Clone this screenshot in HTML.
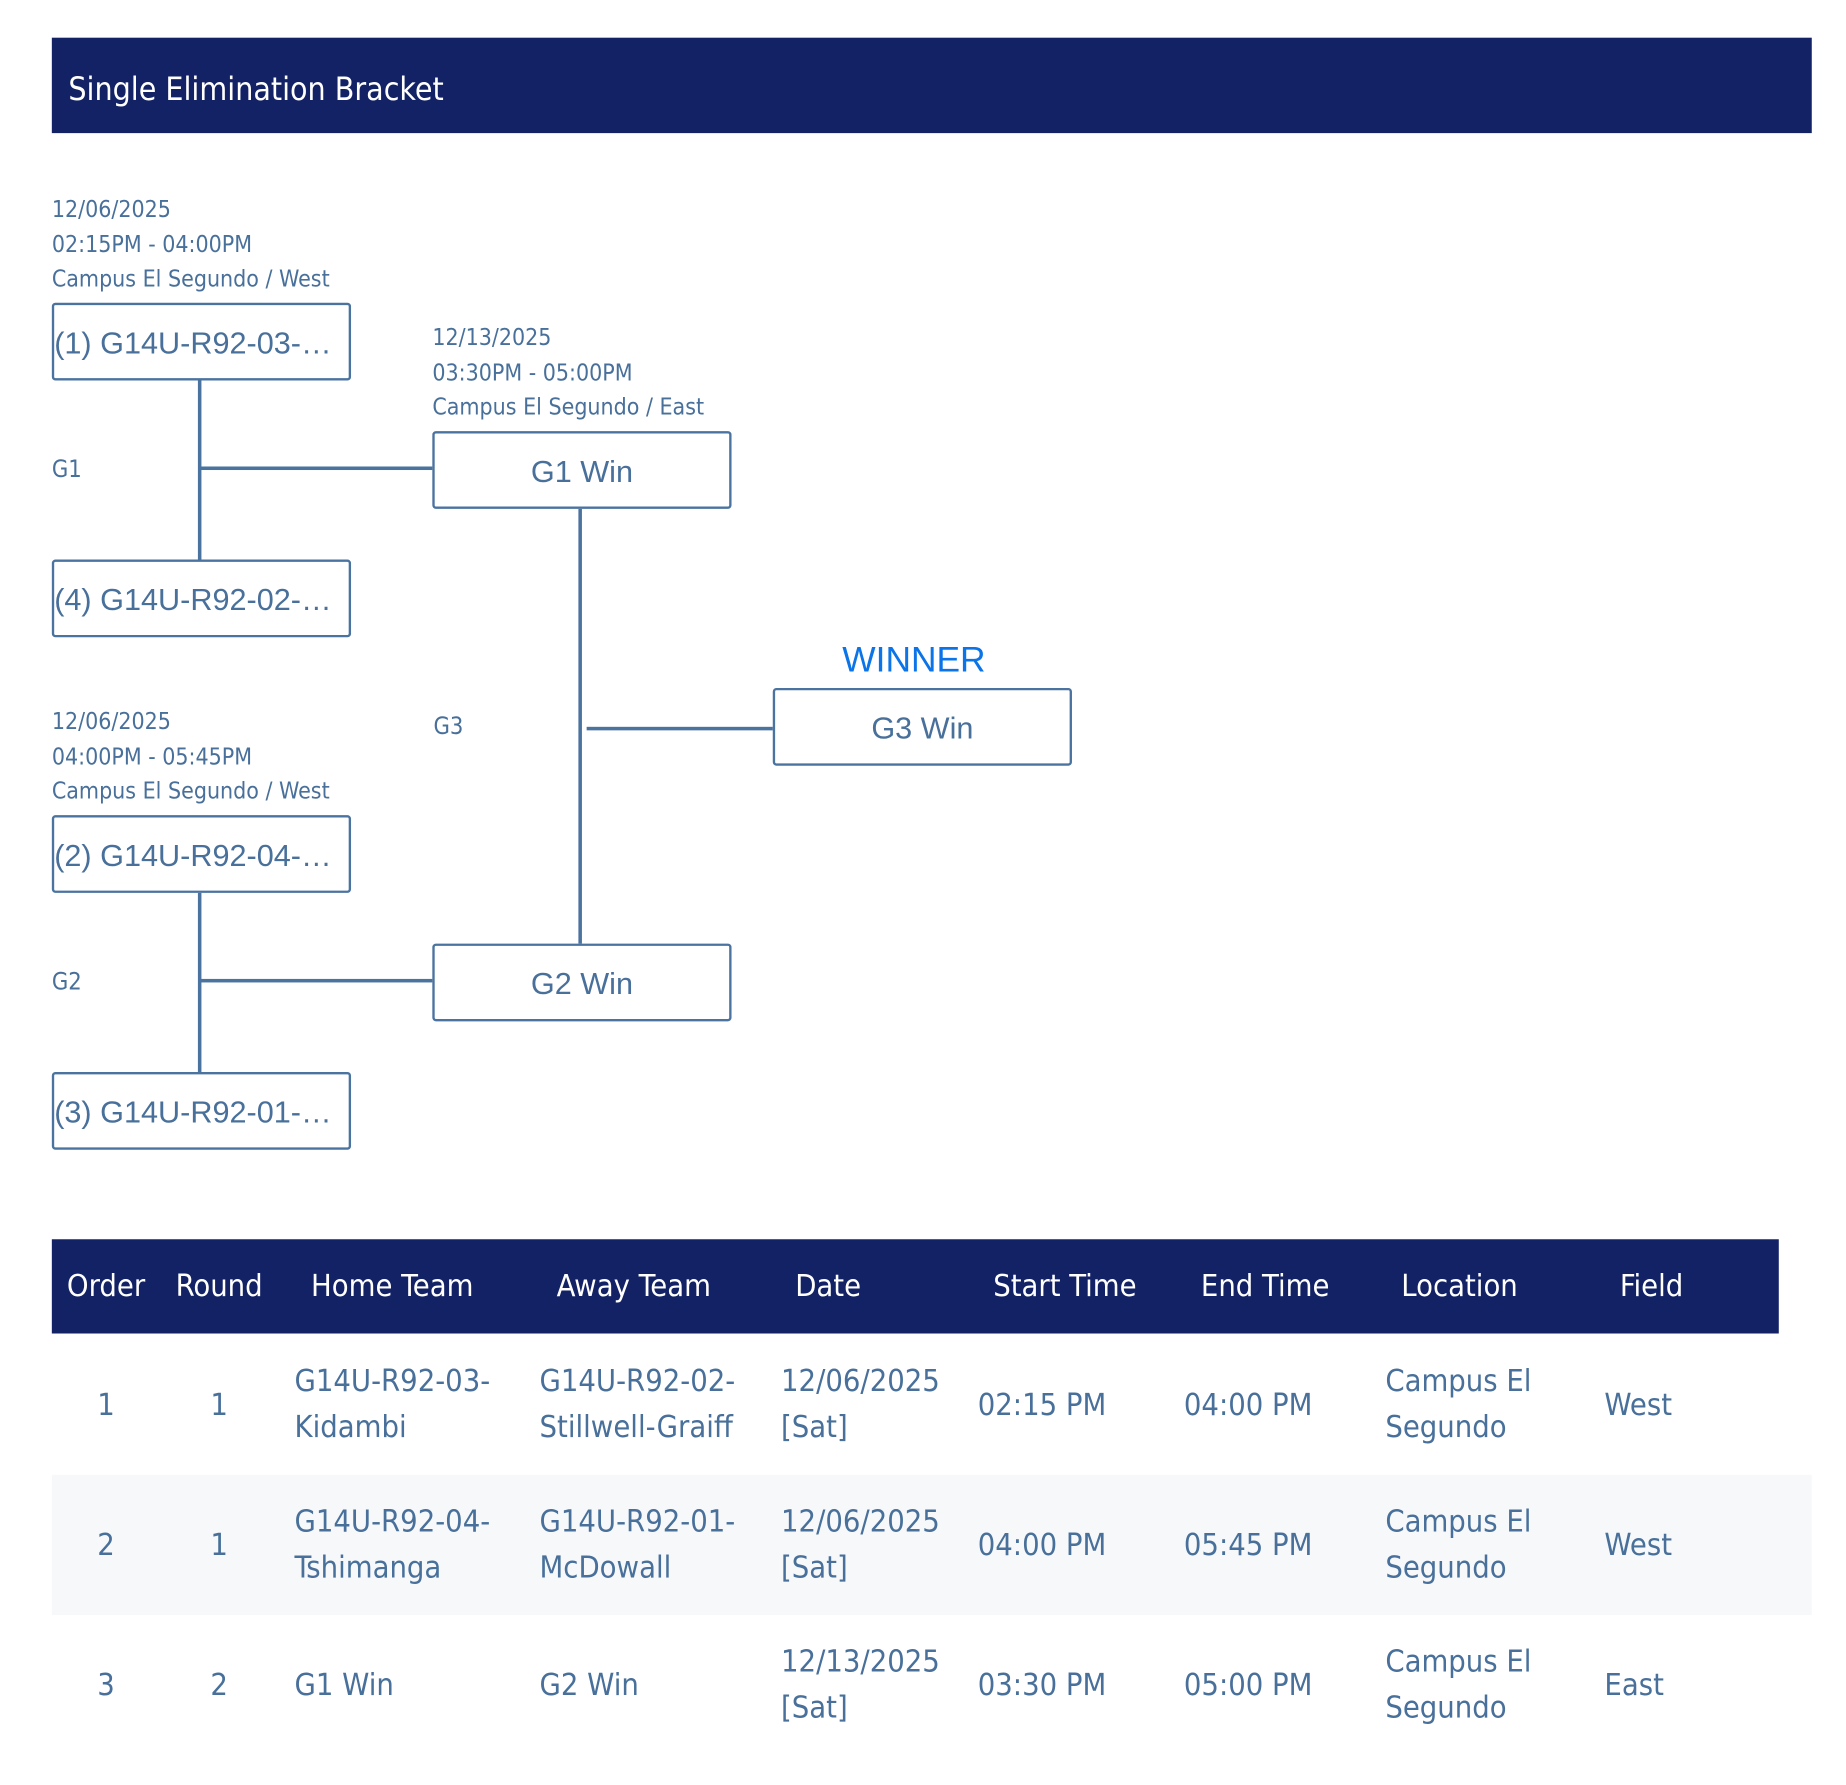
<!DOCTYPE html>
<html><head><meta charset="utf-8"><style>
html,body{margin:0;padding:0;background:#fff;}
body{width:1846px;height:1782px;overflow:hidden;}
#w{position:absolute;left:0;top:0;width:1570px;height:1515px;transform:scale(1.178);transform-origin:0 0;font-family:"DejaVu Sans Condensed","Liberation Sans",sans-serif;color:#48709a;}
.a{position:absolute;}
.hd{left:44px;top:32px;width:1494px;height:81px;background:#122265;color:#fff;font-size:27px;line-height:89px;box-sizing:border-box;padding-left:14px;}
.info{font-size:19.5px;line-height:29.5px;white-space:nowrap;}
.box{position:absolute;width:254px;height:66px;box-sizing:border-box;border:2px solid #4a73a0;border-radius:3px;background:#fff;font-family:"Liberation Sans",sans-serif;font-size:26px;line-height:64px;text-align:center;color:#48709a;white-space:nowrap;overflow:hidden;}
.box.l{text-align:left;padding-left:0;}
.ln{position:absolute;background:#4a73a0;}
.lbl{font-size:20px;}
.th{position:absolute;left:44px;top:1052px;width:1466px;height:80px;background:#122265;}
.h{position:absolute;top:1052px;line-height:80px;color:#fff;font-size:26px;transform:translateX(-50%);white-space:nowrap;}
.c{position:absolute;font-size:26px;line-height:39px;white-space:nowrap;}
.cc{transform:translateX(-50%);}
</style></head><body><div id="w">
<div class="a hd">Single Elimination Bracket</div>

<div class="a info" style="left:44px;top:163px">12/06/2025<br>02:15PM - 04:00PM<br>Campus El Segundo / West</div>
<div class="box l" style="left:44px;top:257px">(1) G14U-R92-03-…</div>
<div class="box l" style="left:44px;top:475px">(4) G14U-R92-02-…</div>
<div class="ln" style="left:168px;top:323px;width:3px;height:152px"></div>
<div class="ln" style="left:170px;top:396px;width:197px;height:3px"></div>
<div class="a lbl" style="left:44px;top:386px">G1</div>

<div class="a info" style="left:367px;top:272px">12/13/2025<br>03:30PM - 05:00PM<br>Campus El Segundo / East</div>
<div class="box" style="left:367px;top:366px">G1 Win</div>

<div class="a info" style="left:44px;top:598px">12/06/2025<br>04:00PM - 05:45PM<br>Campus El Segundo / West</div>
<div class="box l" style="left:44px;top:692px">(2) G14U-R92-04-…</div>
<div class="box l" style="left:44px;top:910px">(3) G14U-R92-01-…</div>
<div class="ln" style="left:168px;top:758px;width:3px;height:152px"></div>
<div class="ln" style="left:170px;top:831px;width:197px;height:3px"></div>
<div class="a lbl" style="left:44px;top:821px">G2</div>
<div class="box" style="left:367px;top:801px">G2 Win</div>

<div class="ln" style="left:491px;top:432px;width:3px;height:369px"></div>
<div class="ln" style="left:498px;top:617px;width:158px;height:3px"></div>
<div class="a lbl" style="left:368px;top:604px">G3</div>
<div class="a" style="left:715px;top:544px;font-family:'Liberation Sans',sans-serif;font-size:30px;color:#0a74e8">WINNER</div>
<div class="box" style="left:656px;top:584px">G3 Win</div>

<div class="th"></div>
<div class="h" style="left:90px">Order</div>
<div class="h" style="left:186px">Round</div>
<div class="h" style="left:333px">Home Team</div>
<div class="h" style="left:538px">Away Team</div>
<div class="h" style="left:703px">Date</div>
<div class="h" style="left:904px">Start Time</div>
<div class="h" style="left:1074px">End Time</div>
<div class="h" style="left:1239px">Location</div>
<div class="h" style="left:1402px">Field</div>

<div class="a" style="left:44px;top:1252px;width:1494px;height:119px;background:#f6f8fa"></div>

<div class="c cc" style="left:90px;top:1174px">1</div>
<div class="c cc" style="left:186px;top:1174px">1</div>
<div class="c" style="left:250px;top:1154px">G14U-R92-03-<br>Kidambi</div>
<div class="c" style="left:458px;top:1154px">G14U-R92-02-<br>Stillwell-Graiff</div>
<div class="c" style="left:663px;top:1154px">12/06/2025<br>[Sat]</div>
<div class="c" style="left:830px;top:1174px">02:15 PM</div>
<div class="c" style="left:1005px;top:1174px">04:00 PM</div>
<div class="c" style="left:1176px;top:1154px">Campus El<br>Segundo</div>
<div class="c" style="left:1362px;top:1174px">West</div>

<div class="c cc" style="left:90px;top:1293px">2</div>
<div class="c cc" style="left:186px;top:1293px">1</div>
<div class="c" style="left:250px;top:1273px">G14U-R92-04-<br>Tshimanga</div>
<div class="c" style="left:458px;top:1273px">G14U-R92-01-<br>McDowall</div>
<div class="c" style="left:663px;top:1273px">12/06/2025<br>[Sat]</div>
<div class="c" style="left:830px;top:1293px">04:00 PM</div>
<div class="c" style="left:1005px;top:1293px">05:45 PM</div>
<div class="c" style="left:1176px;top:1273px">Campus El<br>Segundo</div>
<div class="c" style="left:1362px;top:1293px">West</div>

<div class="c cc" style="left:90px;top:1412px">3</div>
<div class="c cc" style="left:186px;top:1412px">2</div>
<div class="c" style="left:250px;top:1412px">G1 Win</div>
<div class="c" style="left:458px;top:1412px">G2 Win</div>
<div class="c" style="left:663px;top:1392px">12/13/2025<br>[Sat]</div>
<div class="c" style="left:830px;top:1412px">03:30 PM</div>
<div class="c" style="left:1005px;top:1412px">05:00 PM</div>
<div class="c" style="left:1176px;top:1392px">Campus El<br>Segundo</div>
<div class="c" style="left:1362px;top:1412px">East</div>
</div></body></html>
